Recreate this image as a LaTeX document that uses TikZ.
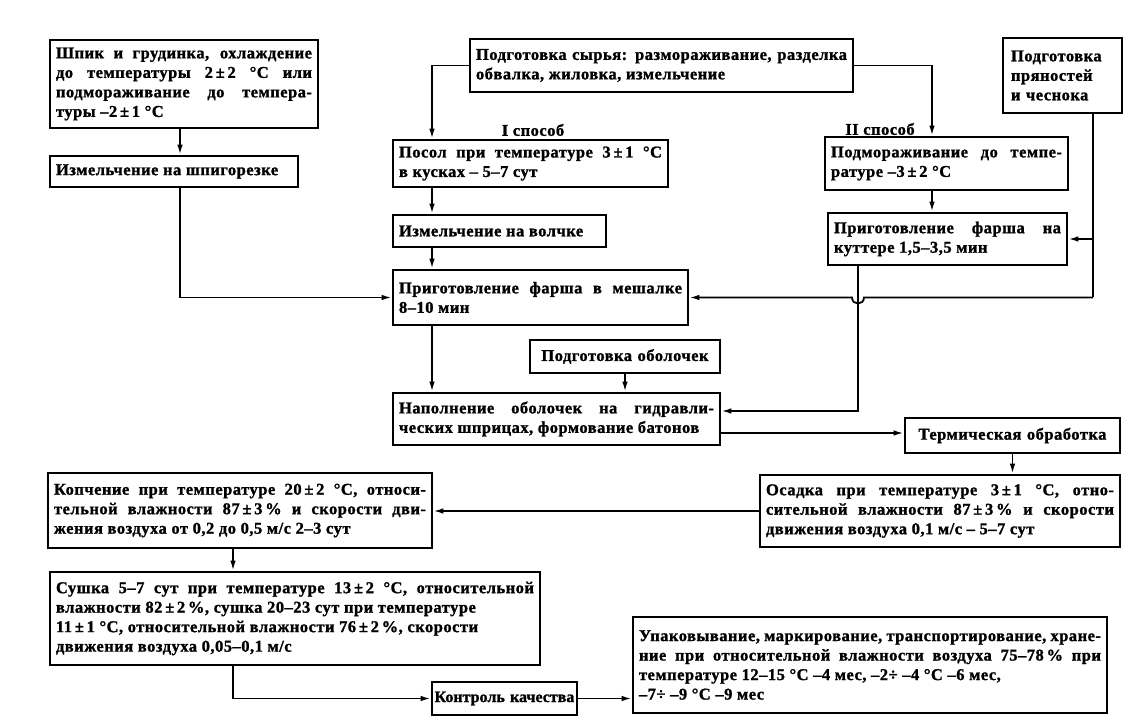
\documentclass[tikz,border=0pt]{standalone}
\usepackage{fontspec}
\setmainfont{Liberation Serif}[LetterSpace=3, BoldFeatures={FakeBold=1.2}]
\usetikzlibrary{arrows.meta,calc}
\tikzset{
  box/.style={draw, line width=2.6pt, fill=white, inner xsep=6pt, inner ysep=2pt,
    font=\bfseries\fontsize{16.5}{19.5}\selectfont, align=justify},
  cbox/.style={box, align=center},
  conn/.style={line width=1.8pt},
  arr/.style={conn, -{Latex[length=10pt,width=5.5pt]}},
  lbl/.style={font=\bfseries\fontsize{16.5}{19.5}\selectfont, inner sep=0pt}
}
\begin{document}
\begin{tikzpicture}[x=1pt,y=-1pt]
\useasboundingbox (0,0) rectangle (1136,719);
\hbadness=10000 \hyphenpenalty=10000

% boxes
\node[box, minimum width=268pt, minimum height=88pt, text width=256pt] (A) at (184,84)
  {Шпик и грудинка, охлаждение\linebreak до температуры 2\,±\,2 °C или\linebreak подмораживание до темпера-\linebreak туры –2\,±\,1 °C};
\node[box, minimum width=248pt, minimum height=31pt, text width=236pt] (B) at (174,171.5)
  {Измельчение на шпигорезке};
\node[box, minimum width=383pt, minimum height=53pt, text width=371pt] (C) at (661.5,65.5)
  {Подготовка сырья: размораживание, разделка\linebreak обвалка, жиловка, измельчение};
\node[box, align=left, minimum width=119pt, minimum height=75pt, text width=103pt, inner xsep=8pt] (D) at (1062.5,75.5)
  {Подготовка\\ пряностей\\ и чеснока};
\node[box, minimum width=275pt, minimum height=47pt, text width=263pt] (E) at (530.5,163.5)
  {Посол при температуре 3\,±\,1 °C\linebreak в кусках – 5–7 сут};
\node[box, minimum width=243pt, minimum height=53pt, text width=231pt] (F) at (946.5,163.5)
  {Подмораживание до темпе-\linebreak ратуре –3\,±\,2 °C};
\node[box, minimum width=239pt, minimum height=52pt, text width=227pt] (G) at (947.5,239)
  {Приготовление фарша на\linebreak куттере 1,5–3,5 мин};
\node[box, minimum width=213pt, minimum height=32pt, text width=201pt] (H) at (499.5,231)
  {Измельчение на волчке};
\node[box, minimum width=295pt, minimum height=55pt, text width=283pt] (I) at (540.5,297.5)
  {Приготовление фарша в мешалке\linebreak 8–10 мин};
\node[cbox, minimum width=190pt, minimum height=33pt, text width=178pt] (J) at (625,356.5)
  {Подготовка оболочек};
\node[box, minimum width=327pt, minimum height=52pt, text width=315pt] (K) at (556.5,419)
  {Наполнение оболочек на гидравли-\linebreak ческих шприцах, формование батонов};
\node[cbox, minimum width=215pt, minimum height=35pt, text width=203pt] (L) at (1012.5,435.5)
  {Термическая обработка};
\node[box, minimum width=360pt, minimum height=72pt, text width=348pt] (M) at (940,511)
  {Осадка при температуре 3\,±\,1 °C, отно-\linebreak сительной влажности 87\,±\,3\,\% и скорости\linebreak движения воздуха 0,1 м/с – 5–7 сут};
\node[box, minimum width=384pt, minimum height=75pt, text width=372pt] (N) at (240,510.5)
  {Копчение при температуре 20\,±\,2 °C, относи-\linebreak тельной влажности 87\,±\,3\,\% и скорости дви-\linebreak жения воздуха от 0,2 до 0,5 м/с 2–3 сут};
\node[box, minimum width=490pt, minimum height=93pt, text width=478pt] (O) at (295,618.5)
  {Сушка 5–7 сут при температуре 13\,±\,2 °C, относительной\linebreak влажности 82\,±\,2\,\%, сушка 20–23 сут при температуре\\ 11\,±\,1 °C, относительной влажности 76\,±\,2\,\%, скорости\\ движения воздуха 0,05–0,1 м/с};
\node[cbox, minimum width=145pt, minimum height=33pt, text width=143pt, inner xsep=1pt, font=\bfseries\fontsize{16}{19}\selectfont\addfontfeature{LetterSpace=0}] (P) at (504.5,698.5)
  {Контроль качества};
\node[box, minimum width=474pt, minimum height=96pt, text width=462pt] (Q) at (870,665)
  {Упаковывание, маркирование, транспортирование, хране-\linebreak ние при относительной влажности воздуха 75–78\,\% при\linebreak температуре 12–15 °C –4 мес, –2÷ –4 °C –6 мес,\\ –7÷ –9 °C –9 мес};

% labels
\node[lbl] (m1) at (533,130) {I способ};
\node[lbl] (m2) at (880,129) {II способ};

% lanes
\coordinate (lA) at (180,0);
\coordinate (lE) at (432,0);
\coordinate (lF) at (932,0);
\coordinate (lD) at (1093,0);
\coordinate (lG) at (858,0);
\coordinate (lN) at (233,0);
\coordinate (yKin) at (0,411);
\coordinate (yKout) at (0,433);

% connectors
\draw[arr] (A.south -| lA) -- (B.north -| lA);
\draw[arr] (B.south -| lA) |- (I.west);
\draw[arr] (C.west) -| (E.north -| lE);
\draw[arr] (C.east) -| (F.north -| lF);
\draw[arr] (E.south -| lE) -- (H.north -| lE);
\draw[arr] (H.south -| lE) -- (I.north -| lE);
\draw[arr] (I.south -| lE) -- (K.north -| lE);
\draw[arr] (F.south -| lF) -- (G.north -| lF);
\draw[arr] (D.south -| lD) |- (G.east);
\coordinate (cD) at (lD |- I.east);
\coordinate (bR) at ($(lG |- I.east)+(6,0)$);
\coordinate (bL) at ($(lG |- I.east)+(-6,0)$);
\draw[conn] (G.east -| lD) -- (cD);
\draw[arr] (cD) -- (bR) .. controls ($(bR)+(0,8)$) and ($(bL)+(0,8)$) .. (bL) -- (I.east);
\draw[arr] (G.south -| lG) |- (K.east |- yKin);
\draw[arr] (J.south) -- (K.north -| J.south);
\draw[arr] (K.east |- yKout) -- (L.west |- yKout);
\draw[arr] (L.south) -- (M.north -| L.south);
\draw[arr] (M.west) -- (N.east |- M.west);
\draw[arr] (N.south -| lN) -- (O.north -| lN);
\draw[arr] (O.south -| lN) |- (P.west);
\draw[arr] (P.east) -- (Q.west |- P.east);
\end{tikzpicture}
\end{document}
